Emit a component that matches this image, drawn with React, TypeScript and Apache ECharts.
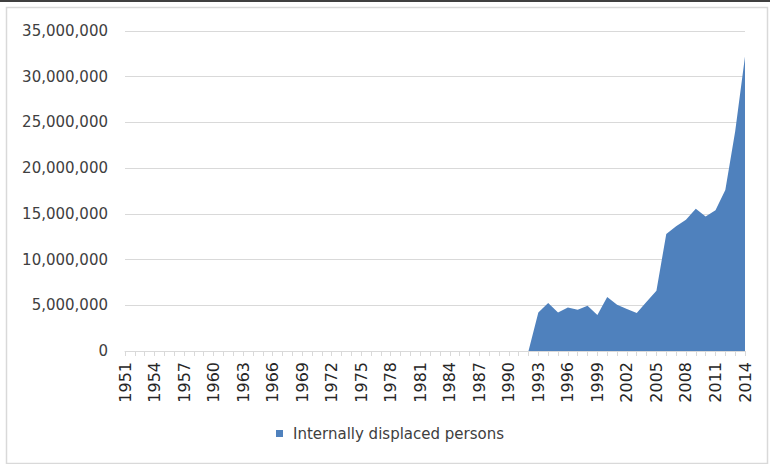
import React, { useEffect, useRef } from "react";
import * as echarts from "echarts";

const years: string[] = [
  "1951", "1952", "1953", "1954", "1955", "1956", "1957", "1958", "1959", "1960",
  "1961", "1962", "1963", "1964", "1965", "1966", "1967", "1968", "1969", "1970",
  "1971", "1972", "1973", "1974", "1975", "1976", "1977", "1978", "1979", "1980",
  "1981", "1982", "1983", "1984", "1985", "1986", "1987", "1988", "1989", "1990",
  "1991", "1992", "1993", "1994", "1995", "1996", "1997", "1998", "1999", "2000",
  "2001", "2002", "2003", "2004", "2005", "2006", "2007", "2008", "2009", "2010",
  "2011", "2012", "2013", "2014",
];

// 1951–1992: no reported IDPs
const idpEarly: number[] = [
  0, 0, 0, 0, 0, 0, 0, 0, 0, 0,
  0, 0, 0, 0, 0, 0, 0, 0, 0, 0,
  0, 0, 0, 0, 0, 0, 0, 0, 0, 0,
  0, 0, 0, 0, 0, 0, 0, 0, 0, 0,
  0, 0,
];

// 1993–2014
const idpLate: number[] = [
  4200000, 5250000, 4200000, 4750000, 4500000, 4950000, 3950000, 5900000,
  5050000, 4600000, 4150000, 5400000, 6600000, 12800000, 13650000, 14350000,
  15550000, 14700000, 15400000, 17600000, 24000000, 32200000,
];

const seriesName = "Internally displaced persons";
const yTicks = { min: 0, max: 35000000, interval: 5000000 };

const FONT = "DejaVu Sans";
const TEXT = "#595959";
const GRID = "#d9d9d9";

export default function App() {
  const ref = useRef<HTMLDivElement>(null);
  useEffect(() => {
    if (!ref.current) return;
    const chart = echarts.init(ref.current, null, { renderer: "svg" });
    chart.setOption({
      animation: false,
      backgroundColor: "#ffffff",
      textStyle: { fontFamily: FONT },
      grid: { left: 125, right: 25, top: 31, bottom: 113, containLabel: false },
      graphic: [
        {
          type: "line",
          shape: { x1: 0, y1: 1, x2: 770, y2: 1 },
          style: { stroke: "#000000", lineWidth: 1.5 },
          silent: true,
        },
        {
          type: "rect",
          shape: { x: 6.5, y: 7.5, width: 761, height: 456 },
          style: { fill: "none", stroke: GRID, lineWidth: 1.5 },
          silent: true,
        },
      ],
      legend: {
        left: 276,
        top: 426,
        padding: 0,
        icon: "rect",
        itemWidth: 7,
        itemHeight: 7,
        itemGap: 10,
        textStyle: {
          fontFamily: FONT,
          fontSize: 15,
          color: "#404040",
          padding: [0, 0, 0, 5],
        },
        data: [seriesName],
      },
      xAxis: {
        type: "category",
        boundaryGap: false,
        data: years,
        axisLine: { show: true, lineStyle: { color: GRID, width: 1 } },
        axisTick: {
          show: true,
          interval: 0,
          length: 5,
          lineStyle: { color: GRID },
        },
        axisLabel: {
          interval: 2,
          rotate: 90,
          margin: 11,
          fontFamily: FONT,
          fontSize: 16,
          color: "#262626",
        },
        splitLine: { show: false },
      },
      yAxis: {
        type: "value",
        min: yTicks.min,
        max: yTicks.max,
        interval: yTicks.interval,
        axisLine: { show: false },
        axisTick: { show: false },
        axisLabel: {
          margin: 17,
          fontFamily: FONT,
          fontSize: 15,
          color: "#404040",
          formatter: (v: number) => v.toLocaleString("en-US"),
        },
        splitLine: { show: true, lineStyle: { color: GRID, width: 1 } },
      },
      series: [
        {
          name: seriesName,
          type: "line",
          data: [...idpEarly, ...idpLate],
          symbol: "none",
          showSymbol: false,
          lineStyle: { width: 0, color: "#4f81bd" },
          itemStyle: { color: "#4f81bd" },
          areaStyle: { color: "#4f81bd", opacity: 1 },
        },
      ],
    });
    return () => chart.dispose();
  }, []);
  return (
    <div
      ref={ref}
      style={{ position: "absolute", left: 0, top: 0, width: 770, height: 464 }}
    />
  );
}
